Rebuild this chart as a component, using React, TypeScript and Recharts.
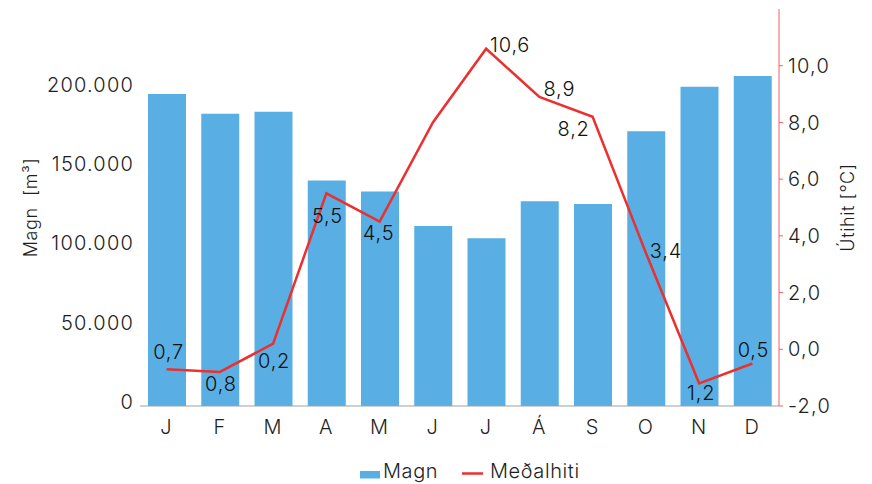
import React from 'react';
import {
  ComposedChart,
  Bar,
  Line,
  XAxis,
  YAxis,
  Legend,
  LabelList,
} from 'recharts';

const MONTHS = ['J', 'F', 'M', 'A', 'M', 'J', 'J', 'Á', 'S', 'O', 'N', 'D'];
const MAGN = [
  196500, 184000, 185300, 142000, 135000, 113400, 105600, 129000, 127200,
  173000, 201000, 207800,
];
const MEDALHITI = [-0.7, -0.8, 0.2, 5.5, 4.5, 8.0, 10.6, 8.9, 8.2, 3.4, -1.2, -0.5];
const VOL_TICKS = [0, 50000, 100000, 150000, 200000];
const TEMP_TICKS = [-2, 0, 2, 4, 6, 8, 10];
const EDGE_TICKS = [0, 1, 2, 3, 4, 5, 6, 7, 8, 9, 10, 11, 12];

// where each temperature label sits relative to its point (null = no label)
const LABEL_OFFSETS: ([number, number] | null)[] = [
  [2, -17], [1, 12], [1, 17], [1, 23], [-1, 11], null,
  [24, -4], [20, -8], [-19, 12], [20, -2], [2, 10], [1, -13],
];

const data = MONTHS.map((m, i) => ({
  month: m,
  idx: i,
  magn: MAGN[i],
  hiti: MEDALHITI[i],
}));

const FONT = 'Inter, "DejaVu Sans", sans-serif';
const TEXT = '#1e1e1e';
const BLUE = '#59AFE3';
const RED = '#EC2F2F';

const fmtVol = (v: number) =>
  String(v).replace(/\B(?=(\d{3})+(?!\d))/g, '.');
const fmtTemp = (v: number) => v.toFixed(1).replace('.', ',');

const tempLabel = (props: any) => {
  const { x, y, value, index } = props;
  const off = LABEL_OFFSETS[index];
  if (!off) return null;
  return (
    <text
      x={x + off[0]}
      y={y + off[1]}
      textAnchor='middle'
      dominantBaseline='central'
      fontSize={20}
      fontFamily={FONT}
      fontWeight={300}
      letterSpacing={0.8}
      fill='#111'
    >
      {fmtTemp(Math.abs(value))}
    </text>
  );
};

const renderLegend = () => (
  <svg width={872} height={38} style={{ display: 'block' }}>
    <rect x={360} y={25} width={20} height={7.5} fill={BLUE} />
    <text x={383} y={32} fontSize={20} fontFamily={FONT} fontWeight={300} letterSpacing={0.6} fill={TEXT}>
      Magn
    </text>
    <line x1={462} x2={483} y1={27.5} y2={27.5} stroke={RED} strokeWidth={2.5} />
    <text x={490} y={32} fontSize={20} fontFamily={FONT} fontWeight={300} letterSpacing={0.6} fill={TEXT}>
      Meðalhiti
    </text>
  </svg>
);

export default function App() {
  const tick = {
    fontSize: 20,
    fontFamily: FONT,
    fontWeight: 300,
    letterSpacing: 1.2,
    fill: TEXT,
  };

  return (
    <div style={{ position: 'absolute', left: 0, top: 0 }}>
      <ComposedChart
        width={872}
        height={484}
        data={data}
        margin={{ top: 9, right: 0, left: 0, bottom: 0 }}
      >
        <XAxis
          xAxisId='edges'
          dataKey='idx'
          type='number'
          domain={[0, 12]}
          ticks={EDGE_TICKS}
          height={0}
          axisLine={false}
          tickLine={{ stroke: '#a0a0a0' }}
          tickSize={4}
          tickFormatter={() => ''}
          allowDataOverflow
        />
        <XAxis
          xAxisId='cat'
          dataKey='month'
          height={40}
          axisLine={{ stroke: '#a0a0a0' }}
          tickLine={false}
          tickSize={0}
          tickMargin={14}
          tick={tick}
          interval={0}
        />
        <YAxis
          yAxisId='vol'
          width={140}
          domain={[0, 250000]}
          ticks={VOL_TICKS}
          axisLine={false}
          tickLine={false}
          tickSize={0}
          tickMargin={6}
          tick={{ ...tick, dy: -4 }}
          tickFormatter={fmtVol}
          label={{
            content: (p: any) => {
              const vb = p.viewBox;
              const cx = vb.x + 30;
              const cy = vb.y + vb.height / 2;
              return (
                <text
                  x={cx}
                  y={cy}
                  transform={`rotate(-90 ${cx} ${cy})`}
                  textAnchor='middle'
                  dominantBaseline='central'
                  fontSize={18}
                  fontFamily={FONT}
                  fontWeight={300}
                  letterSpacing={0.6}
                  fill={TEXT}
                >
                  Magn {'\u00a0'}[m³]
                </text>
              );
            },
          }}
        />
        <YAxis
          yAxisId='temp'
          orientation='right'
          width={93}
          domain={[-2, 12]}
          ticks={TEMP_TICKS}
          axisLine={{ stroke: '#F06060' }}
          tickLine={{ stroke: '#F06060' }}
          tickSize={4}
          tickMargin={5}
          tick={{ ...tick, textAnchor: 'start' }}
          tickFormatter={fmtTemp}
          label={{
            content: (p: any) => {
              const vb = p.viewBox;
              const cx = vb.x + 68;
              const cy = vb.y + vb.height / 2;
              return (
                <text
                  x={cx}
                  y={cy}
                  transform={`rotate(-90 ${cx} ${cy})`}
                  textAnchor='middle'
                  dominantBaseline='central'
                  fontSize={18}
                  fontFamily={FONT}
                  fontWeight={300}
                  letterSpacing={0.6}
                  fill={TEXT}
                >
                  Útihit [°C]
                </text>
              );
            },
          }}
        />
        <Legend verticalAlign='bottom' content={renderLegend} wrapperStyle={{ left: 0, width: 872 }} />
        <Bar
          xAxisId='cat'
          yAxisId='vol'
          dataKey='magn'
          name='Magn'
          fill={BLUE}
          barSize={38}
          isAnimationActive={false}
        />
        <Line
          xAxisId='cat'
          yAxisId='temp'
          dataKey='hiti'
          name='Meðalhiti'
          type='linear'
          stroke={RED}
          strokeWidth={2.5}
          dot={false}
          isAnimationActive={false}
        >
          <LabelList dataKey='hiti' content={tempLabel} />
        </Line>
      </ComposedChart>
    </div>
  );
}
